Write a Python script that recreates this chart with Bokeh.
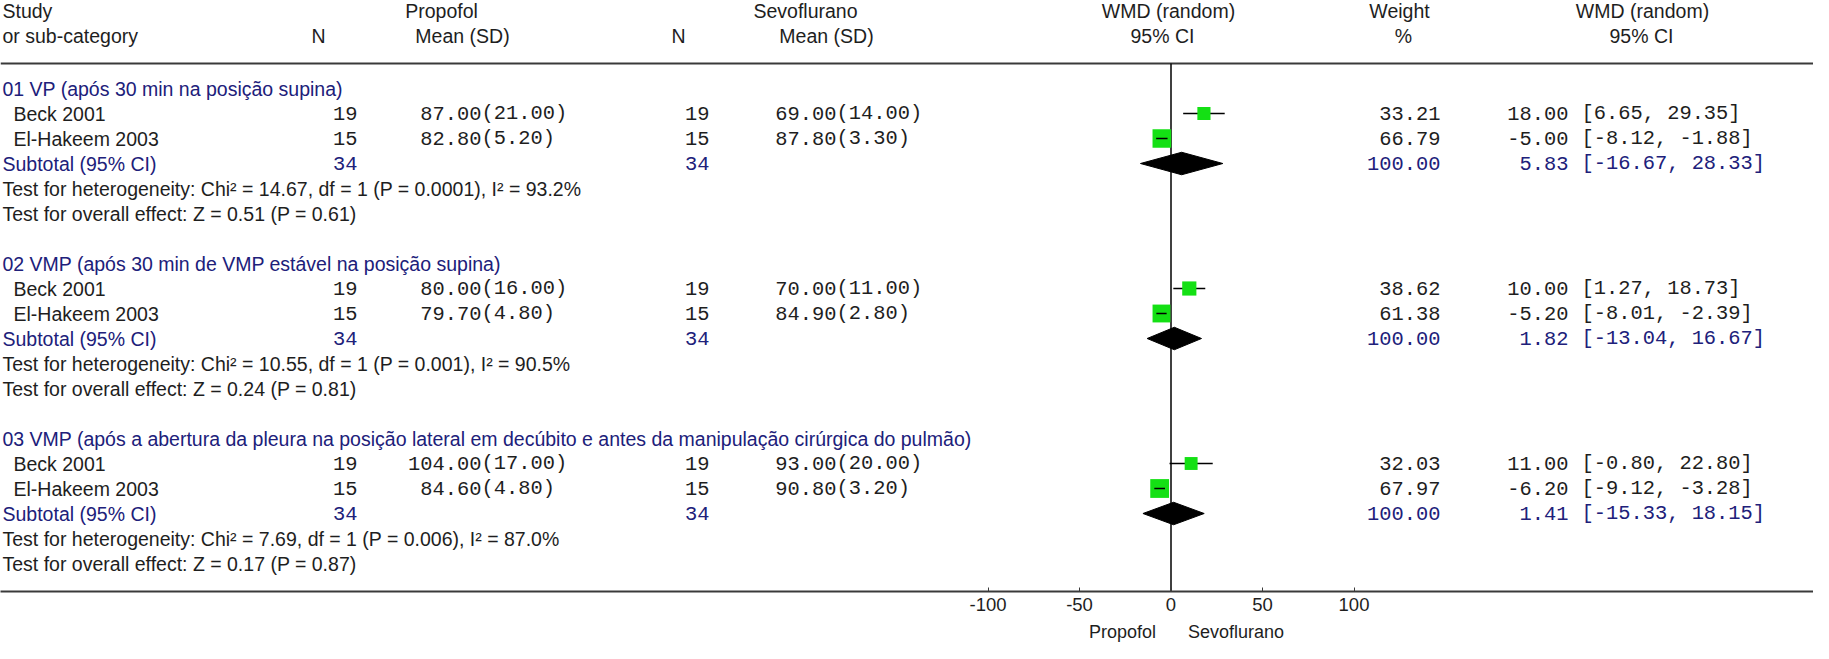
import math
from bokeh.plotting import figure
from bokeh.layouts import column
from bokeh.models import Range1d, FixedTicker, ColumnDataSource
from bokeh.core.properties import value
from bokeh.embed import file_html
from bokeh.resources import INLINE

# ---------------- data ----------------
sections = [
    "01 VP (após 30 min na posição supina)",
    "02 VMP (após 30 min de VMP estável na posição supina)",
    "03 VMP (após a abertura da pleura na posição lateral em decúbito e antes da manipulação cirúrgica do pulmão)",
]
studies = ["Beck 2001", "El-Hakeem 2003"]
prop_n = [19, 15]
sevo_n = [19, 15]
prop_mean = [[87.00, 82.80], [80.00, 79.70], [104.00, 84.60]]
prop_sd = [[21.00, 5.20], [16.00, 4.80], [17.00, 4.80]]
sevo_mean = [[69.00, 87.80], [70.00, 84.90], [93.00, 90.80]]
sevo_sd = [[14.00, 3.30], [11.00, 2.80], [20.00, 3.20]]
weights = [[33.21, 66.79], [38.62, 61.38], [32.03, 67.97]]
wmd = [[18.00, -5.00], [10.00, -5.20], [11.00, -6.20]]
ci_lo = [[6.65, -8.12], [1.27, -8.01], [-0.80, -9.12]]
ci_hi = [[29.35, -1.88], [18.73, -2.39], [22.80, -3.28]]
sub_wmd = [5.83, 1.82, 1.41]
sub_lo = [-16.67, -13.04, -15.33]
sub_hi = [28.33, 16.67, 18.15]
chi2 = ["14.67", "10.55", "7.69"]
p_het = ["0.0001", "0.001", "0.006"]
i2 = ["93.2", "90.5", "87.0"]
z_val = ["0.51", "0.24", "0.17"]
p_z = ["0.61", "0.81", "0.87"]
x_ticks = [-100, -50, 0, 50, 100]
x_tick_labels = ["-100", "-50", "0", "50", "100"]
favours = ["Propofol", "Sevoflurano"]

# ---------------- layout (reference pixels) ----------------
W, H = 1813, 643
MARGIN = 8.0
ZERO_PX = 1178.5
PX_PER_UNIT = 1.83
Y0 = 96.0          # first section header row (ref px)
ROW = 25.0         # row pitch (ref px)
PERIOD = 7         # rows per section
AXIS_PX = 599.0
H1 = 620           # top figure height
H2 = H - H1        # bottom strip with the favours labels

# column anchors (ref px)
LBL_X, STUDY_X = 10, 21
PROP_N_R, PROP_MEAN_R = 365, 489
SEVO_N_R, SEVO_MEAN_R = 717, 844
WEIGHT_R, EST_R, CI_L = 1448, 1576, 1589


def dx(ref_px):
    return (ref_px - ZERO_PX) / PX_PER_UNIT


def ry(ref_px):
    return (ref_px - Y0) / ROW


x_start = dx(MARGIN)
x_end = dx(MARGIN + W)
y_top = ry(MARGIN)
y_bot = ry(AXIS_PX)
xr = Range1d(x_start, x_end)

p = figure(width=W, height=H1, output_backend="svg", toolbar_location=None,
           x_range=xr, y_range=Range1d(y_bot, y_top),
           y_axis_location=None, min_border_left=0, min_border_right=0,
           min_border_top=0, min_border_bottom=H1 - int(AXIS_PX - MARGIN))
p.grid.visible = False
p.outline_line_color = None
p.background_fill_color = "white"
p.border_fill_color = "white"

SANS = "Liberation Sans"
MONO = "Liberation Mono"
SANS_SIZE = "19.5px"
MONO_SIZE = "20.4px"
BLACK = "#1e1e1e"
NAVY = "#20207a"
GREEN = "#14e014"
RULE = "#3a3a3a"

# x axis
ax = p.xaxis[0]
ax.ticker = FixedTicker(ticks=x_ticks)
ax.major_label_overrides = {t: lab for t, lab in zip(x_ticks, x_tick_labels)}
ax.axis_line_color = RULE
ax.axis_line_width = 2
ax.major_tick_in = 4
ax.major_tick_out = 0
ax.minor_tick_line_color = None
ax.major_tick_line_color = RULE
ax.major_label_standoff = 6
ax.major_label_text_font = SANS
ax.major_label_text_font_size = "18.5px"
ax.major_label_text_color = BLACK

texts = {}


def add(key, x, y, t):
    texts.setdefault(key, {"x": [], "y": [], "t": []})
    texts[key]["x"].append(x)
    texts[key]["y"].append(y)
    texts[key]["t"].append(t)


# header
h1, h2 = ry(18.5), ry(43.5)
add(("sans", "left", BLACK), dx(LBL_X), h1, "Study")
add(("sans", "left", BLACK), dx(LBL_X), h2, "or sub-category")
add(("sans", "center", BLACK), dx(326), h2, "N")
add(("sans", "center", BLACK), dx(449), h1, "Propofol")
add(("sans", "center", BLACK), dx(470), h2, "Mean (SD)")
add(("sans", "center", BLACK), dx(686), h2, "N")
add(("sans", "center", BLACK), dx(813), h1, "Sevoflurano")
add(("sans", "center", BLACK), dx(834), h2, "Mean (SD)")
add(("sans", "center", BLACK), dx(1176), h1, "WMD (random)")
add(("sans", "center", BLACK), dx(1170), h2, "95% CI")
add(("sans", "center", BLACK), dx(1407), h1, "Weight")
add(("sans", "center", BLACK), dx(1411), h2, "%")
add(("sans", "center", BLACK), dx(1650), h1, "WMD (random)")
add(("sans", "center", BLACK), dx(1649), h2, "95% CI")

sq_x, sq_y, sq_s = [], [], []
seg = {"x0": [], "x1": [], "y": []}
seg_top = {"x0": [], "x1": [], "y": []}
dia_xs, dia_ys = [], []

for s in range(3):
    base = PERIOD * s
    add(("sans", "left", NAVY), dx(LBL_X), base, sections[s])
    for k in range(2):
        r = base + 1 + k
        add(("sans", "left", BLACK), dx(STUDY_X), r, studies[k])
        add(("mono", "right", BLACK), dx(PROP_N_R), r, f"{prop_n[k]}")
        add(("mono", "right", BLACK), dx(PROP_MEAN_R), r, f"{prop_mean[s][k]:.2f}")
        add(("mono", "left", BLACK), dx(PROP_MEAN_R), r, f"({prop_sd[s][k]:.2f})")
        add(("mono", "right", BLACK), dx(SEVO_N_R), r, f"{sevo_n[k]}")
        add(("mono", "right", BLACK), dx(SEVO_MEAN_R), r, f"{sevo_mean[s][k]:.2f}")
        add(("mono", "left", BLACK), dx(SEVO_MEAN_R), r, f"({sevo_sd[s][k]:.2f})")
        add(("mono", "right", BLACK), dx(WEIGHT_R), r, f"{weights[s][k]:.2f}")
        add(("mono", "right", BLACK), dx(EST_R), r, f"{wmd[s][k]:.2f}")
        add(("mono", "left", BLACK), dx(CI_L), r, f"[{ci_lo[s][k]:.2f}, {ci_hi[s][k]:.2f}]")
        side = 2.28 * math.sqrt(weights[s][k])
        sq_x.append(wmd[s][k]); sq_y.append(r); sq_s.append(side)
        seg["x0"].append(ci_lo[s][k]); seg["x1"].append(ci_hi[s][k]); seg["y"].append(r)
        if (ci_hi[s][k] - ci_lo[s][k]) * PX_PER_UNIT < side:
            seg_top["x0"].append(ci_lo[s][k]); seg_top["x1"].append(ci_hi[s][k]); seg_top["y"].append(r)
    r = base + 3
    add(("sans", "left", NAVY), dx(LBL_X), r, "Subtotal (95% CI)")
    add(("mono", "right", NAVY), dx(PROP_N_R), r, f"{sum(prop_n)}")
    add(("mono", "right", NAVY), dx(SEVO_N_R), r, f"{sum(sevo_n)}")
    add(("mono", "right", NAVY), dx(WEIGHT_R), r, f"{sum(weights[s]):.2f}")
    add(("mono", "right", NAVY), dx(EST_R), r, f"{sub_wmd[s]:.2f}")
    add(("mono", "left", NAVY), dx(CI_L), r, f"[{sub_lo[s]:.2f}, {sub_hi[s]:.2f}]")
    dia_xs.append([sub_lo[s], sub_wmd[s], sub_hi[s], sub_wmd[s]])
    dia_ys.append([r, r - 0.45, r, r + 0.45])
    add(("sans", "left", BLACK), dx(LBL_X), base + 4,
        f"Test for heterogeneity: Chi² = {chi2[s]}, df = 1 (P = {p_het[s]}), I² = {i2[s]}%")
    add(("sans", "left", BLACK), dx(LBL_X), base + 5,
        f"Test for overall effect: Z = {z_val[s]} (P = {p_z[s]})")

# header rule
p.segment(x0=[x_start], x1=[x_end], y0=[ry(71)], y1=[ry(71)], line_color=RULE, line_width=2)
# null line
p.segment(x0=[0], x1=[0], y0=[ry(71)], y1=[y_bot], line_color="black", line_width=1.5)

p.segment(x0="x0", x1="x1", y0="y", y1="y", source=ColumnDataSource(seg), line_color="black", line_width=1.5)
p.scatter(x=sq_x, y=sq_y, size=sq_s, marker="square", fill_color=GREEN, line_color=None)
p.segment(x0="x0", x1="x1", y0="y", y1="y", source=ColumnDataSource(seg_top), line_color="black", line_width=1.5)
p.patches(xs=dia_xs, ys=dia_ys, fill_color="black", line_color="black")

for (fam, align, color), d in texts.items():
    src = ColumnDataSource(d)
    p.text(x="x", y="y", text="t", source=src,
           text_font=value(SANS if fam == "sans" else MONO),
           text_font_size=SANS_SIZE if fam == "sans" else MONO_SIZE,
           text_align=align, text_baseline="middle", text_color=color)

# bottom strip with the "favours" labels
q = figure(width=W, height=H2, output_backend="svg", toolbar_location=None,
           x_range=xr, y_range=Range1d(0, H2), x_axis_location=None,
           y_axis_location=None, min_border=0)
q.grid.visible = False
q.outline_line_color = None
q.background_fill_color = "white"
q.border_fill_color = "white"
q.text(x=[dx(ZERO_PX - 15)], y=[H2 / 2], text=[favours[0]], text_align="right",
       text_baseline="middle", text_font=value(SANS), text_font_size="18px",
       text_color=BLACK)
q.text(x=[dx(ZERO_PX + 17)], y=[H2 / 2], text=[favours[1]], text_align="left",
       text_baseline="middle", text_font=value(SANS), text_font_size="18px",
       text_color=BLACK)

layout = column(p, q, spacing=0)
open("out.html", "w").write(file_html(layout, INLINE))
